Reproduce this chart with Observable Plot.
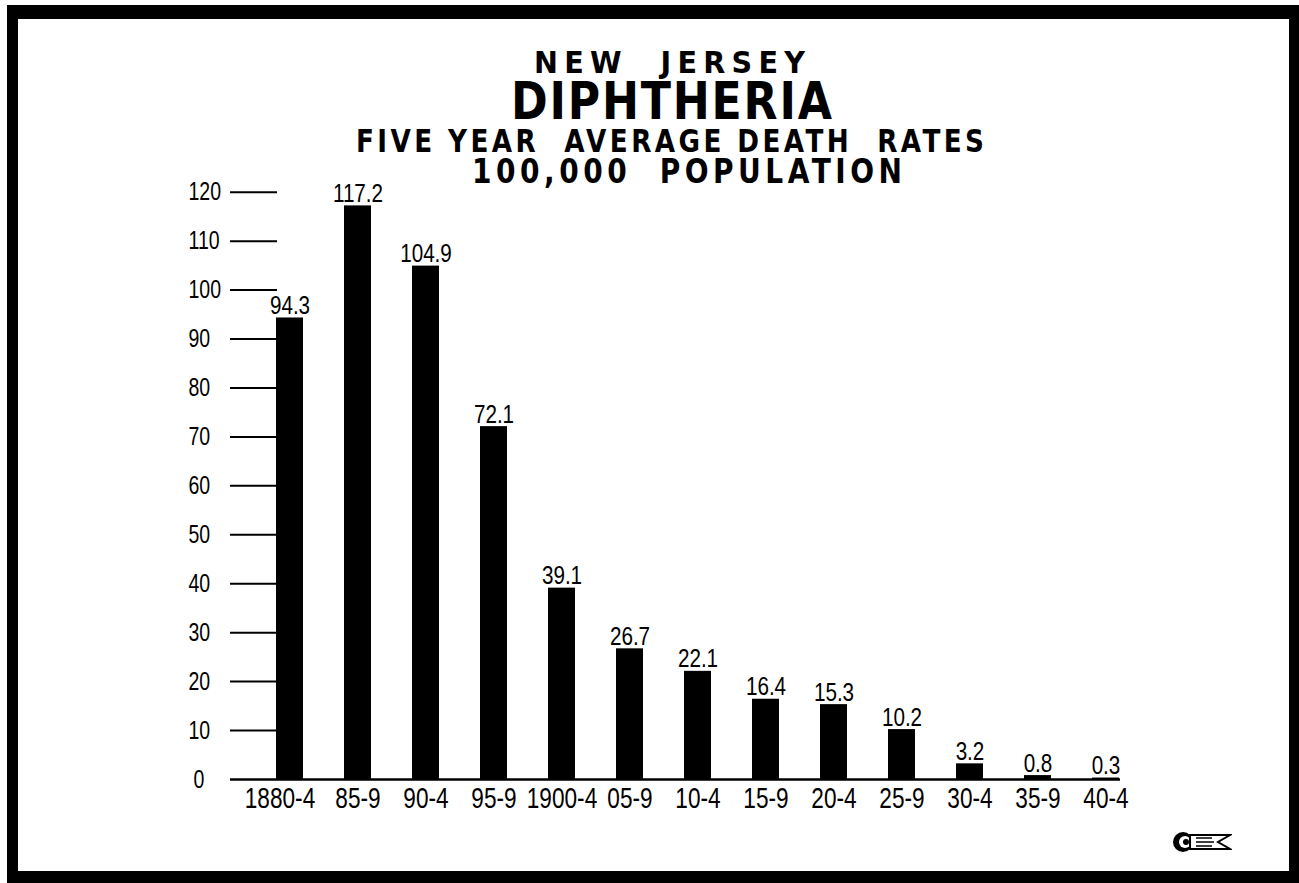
<!DOCTYPE html>
<html>
<head>
<meta charset="utf-8">
<script src="https://cdn.jsdelivr.net/npm/d3@7"></script>
<script src="https://cdn.jsdelivr.net/npm/@observablehq/plot@0.6"></script>
<style>
  html, body { margin: 0; padding: 0; background: #fff; width: 1299px; height: 883px; overflow: hidden; }
  #frame { position: absolute; left: 7px; top: 5px; width: 1292px; height: 878px; box-sizing: border-box;
           border-top: 14px solid #000; border-left: 11px solid #000; border-right: 10px solid #000; border-bottom: 12px solid #000; }
  #chart { position: absolute; left: 0; top: 0; }
  .t { position: absolute; color: #000; white-space: pre; transform-origin: 0 0;
       font-family: "DejaVu Sans", "Liberation Sans", sans-serif; font-weight: bold; line-height: 0.75; }
  #logo { position: absolute; left: 1172px; top: 830px; width: 60px; height: 24px; }
</style>
</head>
<body>
<div id="frame"></div>
<span class="t" id="t1" data-x0="534" data-x1="805" style="top:52px; font-size:29.5px; letter-spacing:0.22em;">NEW  JERSEY</span>
<span class="t" id="t2" data-x0="511" data-x1="832" style="top:83px; font-size:50.8px; letter-spacing:0.04em;">DIPHTHERIA</span>
<span class="t" id="t3" data-x0="356" data-x1="984" style="top:129px; font-size:32px; letter-spacing:0.13em;">FIVE YEAR  AVERAGE DEATH  RATES</span>
<span class="t" id="t4" data-x0="472" data-x1="902" style="top:158.5px; font-size:34.3px; letter-spacing:0.16em;">100,000  POPULATION</span>
<div id="chart"></div>
<svg id="logo" viewBox="0 0 60 24">
  <circle cx="11" cy="12" r="10" fill="#000"/>
  <circle cx="13" cy="12" r="6" fill="#fff"/>
  <circle cx="14" cy="12" r="3" fill="#000"/>
  <path d="M18 5 L58 5 L46 12 L58 19 L18 19 Z" fill="#fff" stroke="#000" stroke-width="2"/>
  <path d="M24 8 H40 M24 12 H42 M24 16 H40" stroke="#000" stroke-width="1.6"/>
</svg>
<script>
const periods = ["1880-4","85-9","90-4","95-9","1900-4","05-9","10-4","15-9","20-4","25-9","30-4","35-9","40-4"];
const rates = [94.3,117.2,104.9,72.1,39.1,26.7,22.1,16.4,15.3,10.2,3.2,0.8,0.3];
const yTicks = [0,10,20,30,40,50,60,70,80,90,100,110,120];

const data = periods.map((p, i) => ({period: p, rate: rates[i]}));
const font = '"Liberation Sans", Arial, sans-serif';

const chart = Plot.plot({
  width: 1299,
  height: 883,
  marginLeft: 230,
  marginRight: 179,
  marginTop: 191.7,
  marginBottom: 104,
  x: {domain: periods, range: [234.5, 1160.6], padding: 0.6, label: null},
  y: {domain: [0, 120], label: null},
  style: {background: "transparent", fontFamily: font, color: "#000", overflow: "visible"},
  marks: [
    Plot.ruleY(yTicks.filter(d => d > 0), {stroke: "#000", strokeWidth: 2, insetRight: 843}),
    Plot.ruleY([0], {stroke: "#000", strokeWidth: 2.5}),
    Plot.barY(data, {x: "period", y: "rate", fill: "#000"}),
    Plot.text(data, {x: "period", y: "rate", text: d => String(d.rate), lineAnchor: "bottom", dy: -4, fontSize: 26.5, fill: "#000"}),
    Plot.axisX({ticks: periods.slice(1), tickSize: 0, tickPadding: 8, fontSize: 29, label: null}),
    Plot.axisX({ticks: periods.slice(0, 1), tickSize: 0, tickPadding: 8, fontSize: 29, dx: -10, label: null}),
    Plot.axisY({ticks: yTicks.slice(1), tickSize: 0, tickPadding: 42, textAnchor: "start", fontSize: 25, label: null}),
    Plot.axisY({ticks: [0], tickSize: 0, tickPadding: 37, textAnchor: "start", fontSize: 25, label: null})
  ]
});
document.getElementById("chart").appendChild(chart);

// condense the lettering horizontally, like the hand-drawn original
d3.select(chart).selectAll("text").each(function() {
  const t = this.getAttribute("transform") || "";
  this.setAttribute("transform", t + " scale(0.78,1)");
});

// fit each title line to its measured width in the reference
document.querySelectorAll(".t").forEach(el => {
  const x0 = +el.dataset.x0, x1 = +el.dataset.x1;
  const ls = parseFloat(getComputedStyle(el).letterSpacing) || 0;
  const w = el.getBoundingClientRect().width - ls;
  el.style.left = x0 + "px";
  el.style.transform = `scaleX(${(x1 - x0) / w})`;
});
</script>
</body>
</html>
